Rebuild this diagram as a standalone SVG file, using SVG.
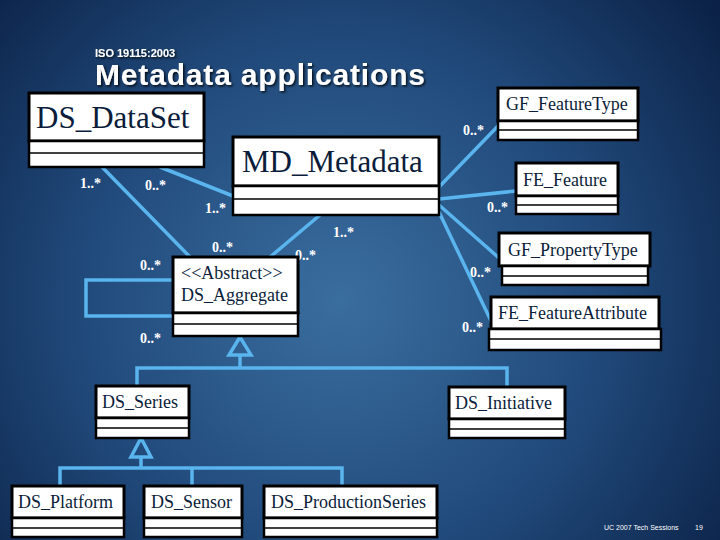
<svg xmlns="http://www.w3.org/2000/svg" width="720" height="540" viewBox="0 0 720 540">
<defs>
<radialGradient id="bg" cx="340" cy="300" r="480" gradientUnits="userSpaceOnUse">
<stop offset="0" stop-color="#3a6e9f"/>
<stop offset="0.55" stop-color="#20497a"/>
<stop offset="1" stop-color="#0b2146"/>
</radialGradient>
<filter id="sh" x="-5%" y="-20%" width="110%" height="150%">
<feDropShadow dx="1.5" dy="1.5" stdDeviation="0.8" flood-color="#000" flood-opacity="0.8"/>
</filter>
<style>
.nm{fill:#fff;stroke:#000;stroke-width:3}
.cp{fill:#fff;stroke:#000;stroke-width:2.5}
.dv{stroke:#000;stroke-width:1.5}
.t{font-family:"Liberation Serif","Times New Roman",serif;fill:#0b1d3a;font-size:18px}
.tb{font-family:"Liberation Serif","Times New Roman",serif;fill:#0b1d3a;font-size:31px}
.m{font-family:"Liberation Serif","Times New Roman",serif;font-weight:bold;fill:#fff;font-size:14px}
.c{fill:none;stroke:#5ab4ee;stroke-width:3.5}
</style>
</defs>
<rect width="720" height="540" fill="url(#bg)"/>
<text x="95" y="57" font-family="Liberation Sans,Arial,sans-serif" font-weight="bold" font-size="11" fill="#fff" filter="url(#sh)">ISO 19115:2003</text>
<text x="95" y="85" font-family="Liberation Sans,Arial,sans-serif" font-weight="bold" font-size="30" fill="#fff" textLength="330" filter="url(#sh)">Metadata applications</text>

<g id="connectors">
<line class="c" x1="102" y1="167" x2="190" y2="257"/>
<line class="c" x1="160" y1="167" x2="233" y2="196"/>
<line class="c" x1="320" y1="215" x2="270" y2="257"/>
<line class="c" x1="439" y1="187" x2="498" y2="126"/>
<line class="c" x1="439" y1="199" x2="516" y2="191"/>
<line class="c" x1="439" y1="205" x2="499" y2="258"/>
<line class="c" x1="439" y1="212" x2="492" y2="323"/>
<polyline class="c" points="173,280 86,280 86,316 173,316"/>
<polygon class="c" points="240,337 229,355 251,355"/>
<line class="c" x1="240" y1="355" x2="240" y2="368"/>
<polyline class="c" points="137,386 137,368 507,368 507,387"/>
<polygon class="c" points="141,438 131,457 151,457"/>
<line class="c" x1="141" y1="457" x2="141" y2="468"/>
<polyline class="c" points="60,486 60,468 342,468 342,486"/>
<line class="c" x1="192" y1="468" x2="192" y2="486"/>
</g>

<g id="labels">
<text class="m" x="80" y="188">1..*</text>
<text class="m" x="145" y="190">0..*</text>
<text class="m" x="205" y="213">1..*</text>
<text class="m" x="333" y="237">1..*</text>
<text class="m" x="212" y="252">0..*</text>
<text class="m" x="295" y="260">0..*</text>
<text class="m" x="140" y="270">0..*</text>
<text class="m" x="140" y="343">0..*</text>
<text class="m" x="463" y="135">0..*</text>
<text class="m" x="487" y="212">0..*</text>
<text class="m" x="470" y="277">0..*</text>
<text class="m" x="462" y="332">0..*</text>
</g>

<g id="DS_DataSet">
<rect class="nm" x="29" y="93" width="175" height="48"/>
<rect class="cp" x="29" y="141" width="175" height="26"/>
<line class="dv" x1="29" y1="153" x2="204" y2="153"/>
<text class="tb" x="36" y="128">DS_DataSet</text>
</g>
<g id="MD_Metadata">
<rect class="nm" x="233" y="137" width="206" height="49"/>
<rect class="cp" x="233" y="186" width="206" height="29"/>
<line class="dv" x1="233" y1="199" x2="439" y2="199"/>
<text class="tb" x="242" y="172">MD_Metadata</text>
</g>
<g id="GF_FeatureType">
<rect class="nm" x="498" y="88" width="140" height="33"/>
<rect class="cp" x="498" y="121" width="140" height="19"/>
<line class="dv" x1="498" y1="130" x2="638" y2="130"/>
<text class="t" x="506" y="110">GF_FeatureType</text>
</g>
<g id="FE_Feature">
<rect class="nm" x="516" y="163" width="102" height="33"/>
<rect class="cp" x="516" y="196" width="102" height="18"/>
<line class="dv" x1="516" y1="205" x2="618" y2="205"/>
<text class="t" x="523" y="186">FE_Feature</text>
</g>
<g id="GF_PropertyType">
<rect class="nm" x="499" y="233" width="151" height="33"/>
<rect class="cp" x="502" y="266" width="146" height="19"/>
<line class="dv" x1="502" y1="276" x2="648" y2="276"/>
<text class="t" x="508" y="256">GF_PropertyType</text>
</g>
<g id="FE_FeatureAttribute">
<rect class="nm" x="491" y="297" width="168" height="32"/>
<rect class="cp" x="489" y="329" width="172" height="21"/>
<line class="dv" x1="489" y1="339" x2="661" y2="339"/>
<text class="t" x="498" y="319">FE_FeatureAttribute</text>
</g>
<g id="DS_Aggregate">
<rect class="nm" x="173" y="257" width="125" height="56"/>
<rect class="cp" x="173" y="313" width="125" height="23"/>
<line class="dv" x1="173" y1="324" x2="298" y2="324"/>
<text class="t" x="181" y="279">&lt;&lt;Abstract&gt;&gt;</text>
<text class="t" x="181" y="301">DS_Aggregate</text>
</g>
<g id="DS_Series">
<rect class="nm" x="96" y="386" width="93" height="32"/>
<rect class="cp" x="96" y="418" width="93" height="20"/>
<line class="dv" x1="96" y1="428" x2="189" y2="428"/>
<text class="t" x="102" y="408">DS_Series</text>
</g>
<g id="DS_Initiative">
<rect class="nm" x="449" y="387" width="116" height="32"/>
<rect class="cp" x="449" y="419" width="116" height="19"/>
<line class="dv" x1="449" y1="429" x2="565" y2="429"/>
<text class="t" x="455" y="409">DS_Initiative</text>
</g>
<g id="DS_Platform">
<rect class="nm" x="12" y="486" width="112" height="32"/>
<rect class="cp" x="12" y="518" width="112" height="19"/>
<line class="dv" x1="12" y1="528" x2="124" y2="528"/>
<text class="t" x="18" y="508">DS_Platform</text>
</g>
<g id="DS_Sensor">
<rect class="nm" x="144" y="486" width="98" height="32"/>
<rect class="cp" x="144" y="518" width="98" height="19"/>
<line class="dv" x1="144" y1="528" x2="242" y2="528"/>
<text class="t" x="151" y="508">DS_Sensor</text>
</g>
<g id="DS_ProductionSeries">
<rect class="nm" x="264" y="486" width="173" height="32"/>
<rect class="cp" x="264" y="518" width="173" height="19"/>
<line class="dv" x1="264" y1="528" x2="437" y2="528"/>
<text class="t" x="271" y="508">DS_ProductionSeries</text>
</g>

<text x="604" y="530" font-family="Liberation Sans,Arial,sans-serif" font-size="7" fill="#fff">UC 2007 Tech Sessions</text>
<text x="695" y="530" font-family="Liberation Sans,Arial,sans-serif" font-size="7" fill="#fff">19</text>
</svg>
